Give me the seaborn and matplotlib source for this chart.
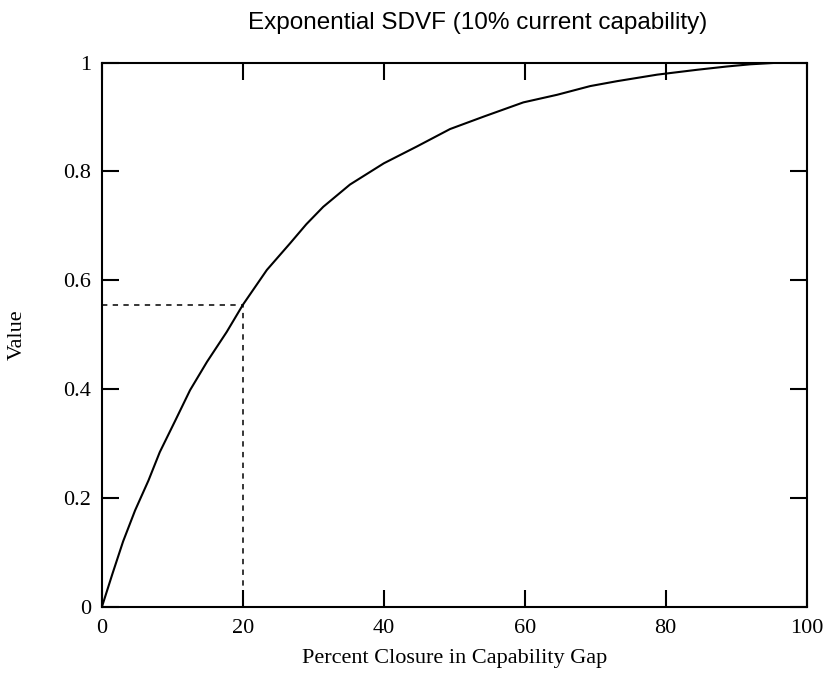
import numpy as np
import pandas as pd
import matplotlib
matplotlib.use('Agg')
import matplotlib.pyplot as plt
import seaborn as sns

# values
closure = [0, 1.5, 3.0, 4.7, 6.6, 8.2, 10.4, 12.5, 14.9, 17.7, 20.0, 23.4, 26.7,
           29.0, 31.4, 35.2, 40.0, 44.7, 49.4, 54.2, 59.8, 64.6, 69.3, 73.1, 78.8,
           84.5, 88.7, 92.0, 96.0, 100.0]
value = [0, 0.061, 0.120, 0.177, 0.232, 0.284, 0.342, 0.398, 0.450, 0.505, 0.555,
         0.619, 0.668, 0.703, 0.735, 0.776, 0.815, 0.846, 0.878, 0.901, 0.927,
         0.941, 0.957, 0.966, 0.978, 0.987, 0.993, 0.997, 1.0, 1.0]

# reference marker at 20% closure
mark_x = 20
mark_y = 0.555

x_ticks = [0, 20, 40, 60, 80, 100]
y_ticks = [0, 0.2, 0.4, 0.6, 0.8, 1]
y_tick_labels = ['0', '0.2', '0.4', '0.6', '0.8', '1']

sns.set_style('ticks')
plt.rcParams['font.family'] = ['Liberation Serif', 'DejaVu Serif']
plt.rcParams['text.color'] = 'black'
plt.rcParams['axes.labelcolor'] = 'black'

df = pd.DataFrame({'closure': closure, 'value': value})

fig = plt.figure(figsize=(8.29, 6.79), dpi=100)
ax = fig.add_axes([0.123, 0.1065, 0.850, 0.8012])

sns.lineplot(data=df, x='closure', y='value', ax=ax, color='black', linewidth=1.5)

# dashed guide lines
ax.plot([0, mark_x], [mark_y, mark_y], color='black', linewidth=1.1, linestyle=(0, (3.5, 3.5)))
ax.plot([mark_x, mark_x], [0, mark_y], color='black', linewidth=1.1, linestyle=(0, (3.5, 3.5)))

ax.set_xlim(0, 100)
ax.set_ylim(0, 1)
ax.set_xticks(x_ticks)
ax.set_xticklabels([str(t) for t in x_ticks])
ax.set_yticks(y_ticks)
ax.set_yticklabels(y_tick_labels)

for side in ['top', 'right', 'left', 'bottom']:
    ax.spines[side].set_visible(True)
    ax.spines[side].set_linewidth(1.5)
    ax.spines[side].set_color('black')

ax.tick_params(axis='both', which='major', direction='in', length=12, width=1.5,
               top=True, right=True, labelsize=16, colors='black')
ax.tick_params(axis='x', pad=9)
ax.tick_params(axis='y', pad=8)

ax.set_xlabel('Percent Closure in Capability Gap', fontsize=16, labelpad=8)
ax.set_ylabel('Value', fontsize=16, labelpad=26)
ax.set_title('Exponential SDVF (10% current capability)', fontsize=17.5, color='black',
             family=['Liberation Sans', 'DejaVu Sans'], x=0.533, pad=24)

fig.savefig('out.png', dpi=100)
